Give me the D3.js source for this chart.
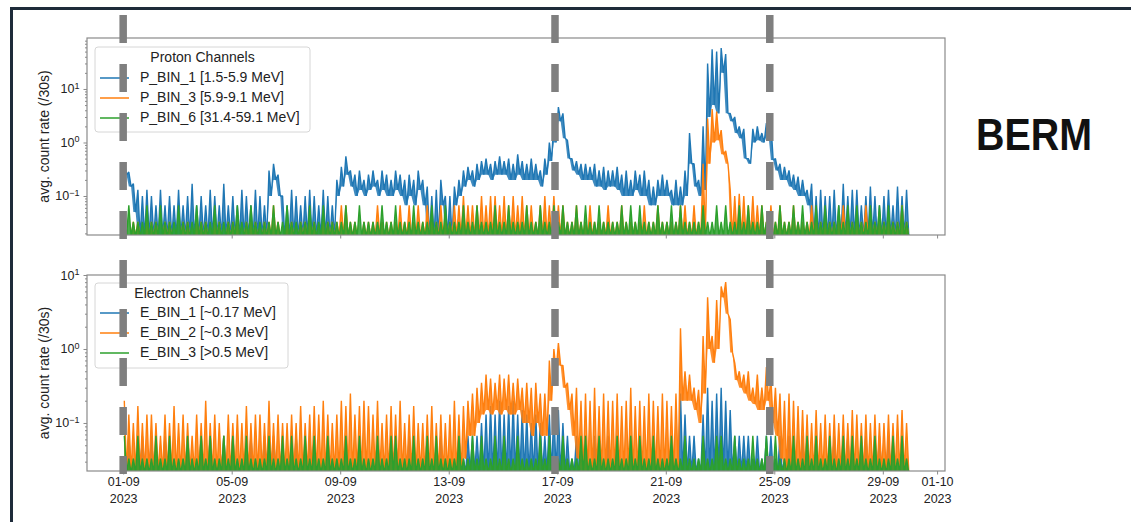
<!doctype html>
<html lang="en">
<head>
<meta charset="utf-8">
<title>BERM</title>
<style>
    body { margin: 0; background: #fff; }
    svg text { font-family: "Liberation Sans", Arial, sans-serif; fill: #222; }
</style>
</head>
<body>
<svg width="1131" height="522"></svg>
<script src="https://d3js.org/d3.v7.min.js"></script>
<script>
    // 4-hour bins from 2023-09-01 00:00; each bin keeps the highest and lowest 30 s rate seen in it
    var binStart = new Date(2023, 8, 1);
    var binHours = 4;

    var protonLabels = ["P_BIN_1 [1.5-5.9 MeV]", "P_BIN_3 [5.9-9.1 MeV]", "P_BIN_6 [31.4-59.1 MeV]"];
    var electronLabels = ["E_BIN_1 [~0.17 MeV]", "E_BIN_2 [~0.3 MeV]", "E_BIN_3 [>0.5 MeV]"];
    var colors = ["#1f77b4", "#ff7f0e", "#2ca02c"];

    // one row = one day (6 bins)
    var p1Max = [
        .42,.28,.17,.13,.1,.13, .1,.067,.13,.067,.1,.067, .13,.067,.1,.17,.067,.1,
        .067,.13,.1,.067,.17,.067, .1,.067,.13,.1,.067,.13, .1,.067,.3,.4,.25,.1,
        .067,.13,.1,.067,.1,.13, .1,.067,.13,.1,.067,.2, .35,.55,.3,.25,.3,.2,
        .25,.3,.2,.3,.25,.2, .3,.25,.2,.25,.2,.3, .2,.15,.1,.13,.2,.1,
        .1,.15,.2,.3,.35,.3, .4,.45,.5,.4,.45,.55, .45,.5,.4,.6,.45,.4,
        .5,.4,.3,.5,1.0,2.6, 4.6,3.5,1.1,.5,.45,.4, .4,.35,.4,.3,.35,.3,
        .3,.35,.25,.3,.2,.3, .25,.3,.2,.15,.2,.25, .2,.13,.2,.15,.3,1.5,
        .4,.2,2,30,55,50, 58,45,3.5,3,2,1.8, .5,1.8,2,1.5,2.3,2.3,
        .5,.4,.35,.3,.25,.23, .2,.13,.17,.1,.13,.1, .1,.13,.067,.17,.1,.13,
        .13,.067,.1,.15,.1,.067, .1,.13,.067,.15,.1,.13
    ];
    var p1Min = [
        .25,.15,.05,0,0,0, 0,0,0,0,0,0, 0,0,0,0,0,0,
        0,0,0,0,0,0, 0,0,0,0,0,0, 0,0,.1,.2,.1,0,
        0,0,0,0,0,0, 0,0,0,0,0,.1, .15,.25,.15,.1,.13,.1,
        .13,.15,.1,.13,.1,.1, .13,.1,.067,.1,.067,.13, .067,0,0,0,.067,0,
        0,.067,.1,.15,.2,.15, .2,.25,.25,.2,.25,.25, .25,.2,.2,.25,.2,.2,
        .2,.2,.15,.25,.45,1.0, 2.5,1.2,.5,.3,.25,.2, .2,.2,.15,.15,.13,.15,
        .15,.13,.1,.1,.1,.13, .1,.1,.067,.067,.1,.1, .1,.067,.067,.067,.1,.4,
        .15,.1,.13,3,5,3.5, 20,3.5,2.5,1.5,1.2,.5, .4,1,1.1,1,1.3,.47,
        .3,.2,.2,.15,.13,.1, .1,.067,0,0,0,0, 0,0,0,0,0,0,
        0,0,0,0,0,0, 0,0,0,0,0,0
    ];
    var p3Max = [
        .033,0,.033,.033,0,.033, .033,.033,0,.033,.033,0, 0,.033,.033,0,.033,.033,
        .033,0,.033,.033,0,.033, .033,.033,0,.033,.033,.033, 0,.033,.033,.067,.033,0,
        .033,.033,0,.033,.033,.033, .033,0,.033,.033,.033,.033, .067,.067,.033,.033,0,.033,
        .033,.033,.067,.033,.033,.033, .033,.067,.033,.067,.033,.067, .033,.067,.033,.033,.067,.033,
        .033,.067,.067,.1,.067,.067, .067,.1,.067,.1,.1,.067, .1,.067,.1,.067,.1,.067,
        .067,.033,.067,.1,.067,.1, .067,.067,.033,.033,.067,.033, .033,.067,.033,.033,.033,.067,
        .033,.033,.067,.033,.033,.033, .033,.067,.033,.033,.067,.033, .033,.033,.033,.067,.067,.033,
        .067,.033,.4,2.8,4.2,3.8, 1.7,.7,.13,.1,.11,.1, .067,.1,.067,.067,.033,.067,
        .033,.067,.033,.033,.067,.033, .033,.033,.067,.033,.033,.033, .033,.033,.033,.067,.033,.033,
        .033,.033,.067,.033,.033,.033, .033,.033,.033,.033,.067,.033
    ];
    var p3Min = [
        0,0,0,0,0,0, 0,0,0,0,0,0, 0,0,0,0,0,0, 0,0,0,0,0,0, 0,0,0,0,0,0, 0,0,0,0,0,0,
        0,0,0,0,0,0, 0,0,0,0,0,0, 0,0,0,0,0,0, 0,0,0,0,0,0, 0,0,0,0,0,0, 0,0,0,0,0,0,
        0,0,0,0,0,0, 0,0,0,0,0,0, 0,0,0,0,0,0, 0,0,0,0,0,0, 0,0,0,0,0,0, 0,0,0,0,0,0,
        0,0,0,0,0,0, 0,0,0,0,0,0, 0,0,0,0,0,0, 0,0,0,.4,1,1.1, .6,.4,0,0,0,0, 0,0,0,0,0,0,
        0,0,0,0,0,0, 0,0,0,0,0,0, 0,0,0,0,0,0, 0,0,0,0,0,0, 0,0,0,0,0,0
    ];
    var p6Max = [
        .033,.067,.033,.033,.033,.067, .033,.033,.067,.033,.033,.033, .067,.033,.033,.033,.067,.033,
        .033,.033,.067,.033,.033,.033, .033,.067,.033,.033,.067,.033, .033,.033,.033,.067,.033,.033,
        .067,.033,.033,.033,.033,.067, .033,.033,.067,.033,.033,.033, .033,.067,.033,.033,.067,.033,
        .033,.033,.033,.067,.033,.033, .067,.033,.033,.033,.067,.033, .033,.033,.067,.033,.033,.067,
        .033,.033,.033,.067,.033,.033, .067,.033,.033,.033,.067,.033, .033,.067,.033,.033,.033,.067,
        .033,.033,.067,.033,.033,.067, .033,.067,.033,.033,.067,.033, .067,.033,.033,.067,.033,.033,
        .033,.033,.067,.033,.067,.033, .067,.033,.033,.033,.067,.033, .033,.067,.033,.067,.033,.033,
        .033,.033,.067,.033,.033,.067, .033,.067,.033,.033,.067,.033, .067,.033,.033,.067,.033,.033,
        .033,.067,.033,.033,.067,.033, .067,.033,.033,.067,.033,.067, .033,.033,.067,.033,.067,.033,
        .067,.033,.033,.067,.033,.067, .033,.067,.033,.033,.067,.033
    ];

    var e1Max = [
        .033,.067,.033,.033,.067,.033, .067,.033,.033,.067,.033,.033, .033,.033,.067,.033,.033,.067,
        .033,.067,.033,.033,.067,.033, .067,.033,.033,.033,.067,.033, .033,.067,.033,.067,.033,.033,
        .033,.033,.067,.033,.033,.067, .067,.033,.033,.067,.033,.033, .033,.067,.033,.033,.067,.033,
        .033,.033,.067,.033,.033,.067, .067,.033,.033,.067,.033,.033, .033,.067,.033,.033,.067,.033,
        .033,.033,.067,.033,.067,.067, .067,.1,.13,.17,.13,.2, .13,.17,.2,.13,.15,.13,
        .1,.13,.1,.067,.13,.15, .15,.1,.067,.033,.067,.033, .067,.033,.067,.033,.033,.067,
        .033,.067,.033,.033,.067,.033, .067,.033,.033,.067,.033,.033, .033,.067,.033,.25,.13,.067,
        .067,.033,.13,.3,.2,.25, .3,.2,.15,.067,.067,.067, .067,.033,.067,.033,.067,.067,
        .033,.067,.033,.067,.033,.033, .067,.033,.033,.067,.033,.033, .033,.067,.033,.033,.067,.033,
        .033,.033,.067,.033,.033,.067, .033,.067,.033,.033,.067,.033
    ];
    var e2Max = [
        .2,.13,.1,.17,.1,.13, .13,.1,.067,.13,.1,.17, .1,.13,.1,.067,.13,.1,
        .2,.1,.13,.1,.067,.13, .1,.13,.1,.17,.1,.13, .13,.1,.2,.1,.13,.1,
        .1,.13,.1,.17,.1,.13, .17,.13,.2,.13,.1,.13, .2,.17,.25,.13,.17,.2,
        .17,.13,.2,.1,.13,.17, .13,.2,.1,.13,.17,.1, .1,.13,.17,.1,.13,.1,
        .13,.2,.13,.17,.2,.25, .3,.35,.45,.4,.35,.45, .4,.45,.35,.4,.3,.35,
        .3,.35,.25,.25,.7,1.0, 1.2,.6,.35,.25,.3,.2, .25,.2,.3,.17,.25,.2,
        .2,.25,.17,.2,.3,.17, .2,.17,.25,.2,.17,.25, .2,.17,.25,1.9,.5,.45,
        .3,.28,1.5,5,1.5,4.6, 7,8,2.5,.65,.5,.45, .5,.3,.45,.3,.57,.4,
        .3,.25,.2,.25,.2,.17, .15,.13,.1,.15,.1,.13, .1,.13,.1,.13,.1,.15,
        .13,.1,.13,.1,.13,.1, .1,.13,.1,.13,.15,.1
    ];
    var e2Min = [
        0,0,0,0,0,0, 0,0,0,0,0,0, 0,0,0,0,0,0, 0,0,0,0,0,0, 0,0,0,0,0,0, 0,0,0,0,0,0,
        0,0,0,0,0,0, 0,0,0,0,0,0, 0,0,0,0,0,0, 0,0,0,0,0,0, 0,0,0,0,0,0, 0,0,0,0,0,0,
        0,0,0,.033,.067,.067, .1,.13,.15,.13,.15,.13, .15,.13,.13,.15,.1,.1,
        .067,.1,.067,.067,.2,.5, .6,.3,.15,.067,.033,0, 0,0,0,0,0,0,
        0,0,0,0,0,0, 0,0,0,0,0,0, 0,0,0,.2,.2,.2,
        .15,.1,.25,1,.65,1, 5,3,.9,.38,.3,.25, .2,.18,.15,.15,.2,.1,
        .067,.033,0,0,0,0, 0,0,0,0,0,0, 0,0,0,0,0,0,
        0,0,0,0,0,0, 0,0,0,0,0,0
    ];
    var e3Max = [
        .067,.033,.033,.067,.033,.033, .033,.067,.033,.033,.067,.033, .033,.033,.067,.033,.033,.067,
        .033,.067,.033,.033,.067,.033, .067,.033,.033,.067,.033,.033, .033,.033,.067,.033,.033,.067,
        .033,.067,.033,.033,.067,.033, .067,.033,.033,.067,.033,.033, .033,.067,.033,.033,.067,.033,
        .033,.033,.067,.033,.033,.067, .067,.033,.033,.033,.067,.033, .033,.067,.033,.067,.033,.033,
        .033,.033,.067,.033,.033,.067, .033,.067,.033,.033,.067,.033, .067,.033,.033,.067,.033,.033,
        .033,.033,.067,.033,.067,.033, .033,.067,.033,.033,.033,.067, .067,.033,.033,.067,.033,.033,
        .033,.067,.033,.033,.067,.033, .067,.033,.033,.067,.033,.033, .033,.067,.033,.033,.067,.033,
        .033,.033,.067,.033,.033,.067, .067,.033,.033,.067,.033,.033, .033,.067,.033,.033,.067,.033,
        .067,.033,.033,.033,.067,.033, .033,.067,.033,.067,.033,.033, .067,.033,.033,.067,.033,.067,
        .033,.067,.033,.033,.067,.033, .033,.033,.067,.033,.067,.033
    ];

    // marked event times (dashed lines)
    var eventTimes = [new Date(2023, 8, 1, 0), new Date(2023, 8, 16, 22), new Date(2023, 8, 24, 20)];
    var xTicks = [new Date(2023, 8, 1), new Date(2023, 8, 5), new Date(2023, 8, 9), new Date(2023, 8, 13),
        new Date(2023, 8, 17), new Date(2023, 8, 21), new Date(2023, 8, 25), new Date(2023, 8, 29),
        new Date(2023, 9, 1)];

    var svg = d3.select("svg"),
        width = +svg.attr("width"),
        height = +svg.attr("height");

    svg.append("rect").attr("width", width).attr("height", height).attr("fill", "#fff");

    // slide frame (only top and left edges are in view)
    svg.append("path")
        .attr("d", "M11.5," + height + "V8.5H" + width)
        .attr("fill", "none")
        .attr("stroke", "#1e2b3a")
        .attr("stroke-width", 3);

    var left = 87, right = 945;
    var x = d3.scaleTime()
        .domain([new Date(2023, 7, 30, 16), new Date(2023, 9, 1, 7)])
        .range([left, right]);

    var panels = [
        {id: "proton", top: 38, bottom: 235, yDomain: [0.01866, 89.7], title: "Proton Channels",
            labels: protonLabels, legend: {x: 95, y: 47, w: 215, h: 85, titleY: 58, rowY: [78, 98, 118]},
            series: [[p1Max, p1Min], [p3Max, p3Min], [p6Max, null]], tickLabels: false},
        {id: "electron", top: 275, bottom: 471, yDomain: [0.02244, 10], title: "Electron Channels",
            labels: electronLabels, legend: {x: 95, y: 283, w: 193, h: 85, titleY: 294, rowY: [313, 333, 353]},
            series: [[e1Max, null], [e2Max, e2Min], [e3Max, null]], tickLabels: true}
    ];

    // each bin becomes a rise to its max and a fall to its min; [time, value, bin min]
    function zigzag(maxs, mins) {
        var pts = [];
        maxs.forEach(function (v, i) {
            var t = d3.timeHour.offset(binStart, i * binHours);
            var lo = mins ? mins[i] : 0;
            pts.push([d3.timeHour.offset(t, 1), v, lo]);
            pts.push([d3.timeHour.offset(t, 3), lo, lo]);
        });
        return pts;
    }

    var fmtDay = d3.timeFormat("%d-%m"),
        fmtYear = d3.timeFormat("%Y");

    panels.forEach(function (p) {
        var y = d3.scaleLog().domain(p.yDomain).range([p.bottom, p.top]);
        // zero counts fall off the log axis: send them just past the bottom edge
        function yv(v) { return v > 0 ? y(v) : p.bottom + 2; }

        var g = svg.append("g").attr("class", p.id);

        g.append("clipPath").attr("id", "clip-" + p.id)
            .append("rect")
            .attr("x", left).attr("y", p.top)
            .attr("width", right - left).attr("height", p.bottom - p.top);

        var line = d3.line()
            .x(function (d) { return x(d[0]); })
            .y(function (d) { return yv(d[1]); });
        var area = d3.area()
            .x(function (d) { return x(d[0]); })
            .y0(function (d) { return yv(d[2]); })
            .y1(function (d) { return yv(d[1]); });

        var s = g.append("g")
            .attr("clip-path", "url(#clip-" + p.id + ")")
            .selectAll("g")
            .data(p.series)
            .enter().append("g");
        // dense 30 s samples read as a filled band between the bin extremes
        s.append("path")
            .attr("d", function (d) { return area(zigzag(d[0], d[1])); })
            .attr("fill", function (d, i) { return colors[i]; })
            .attr("fill-opacity", 0.85);
        s.append("path")
            .attr("d", function (d) { return line(zigzag(d[0], d[1])); })
            .attr("fill", "none")
            .attr("stroke", function (d, i) { return colors[i]; })
            .attr("stroke-width", 1.4)
            .attr("stroke-linejoin", "bevel");

        // spines
        g.append("rect")
            .attr("x", left).attr("y", p.top)
            .attr("width", right - left).attr("height", p.bottom - p.top)
            .attr("fill", "none").attr("stroke", "#8a8a8a").attr("stroke-width", 1.2);

        // y axis: major and minor log ticks
        var majors = [0.1, 1, 10].filter(function (v) { return v >= p.yDomain[0] && v <= p.yDomain[1]; });
        var minors = [];
        [0.01, 0.1, 1, 10].forEach(function (dec) {
            for (var m = 2; m < 10; m++) {
                var v = m * dec;
                if (v > p.yDomain[0] && v < p.yDomain[1]) minors.push(v);
            }
        });
        var yMinor = g.append("g").attr("transform", "translate(" + left + ",0)")
            .call(d3.axisLeft(y).tickValues(minors).tickSize(2).tickFormat(""));
        var yMajor = g.append("g").attr("transform", "translate(" + left + ",0)")
            .call(d3.axisLeft(y).tickValues(majors).tickSize(3.5).tickPadding(4));
        [yMinor, yMajor].forEach(function (a) {
            a.select(".domain").remove();
            a.selectAll("line").attr("stroke", "#8a8a8a");
        });
        yMajor.attr("font-family", null).attr("font-size", null);
        yMajor.selectAll(".tick text").each(function (d) {
            var t = d3.select(this).text("").attr("font-size", "12.5px");
            t.append("tspan").text("10");
            t.append("tspan").attr("dy", "-0.55em").attr("font-size", "9px")
                .text(String(Math.round(Math.log10(d))).replace("-", "\u2212"));
        });

        g.append("text")
            .attr("transform", "translate(45," + ((p.top + p.bottom) / 2) + ") rotate(-90)")
            .attr("text-anchor", "middle")
            .attr("dominant-baseline", "middle")
            .attr("font-size", "14px")
            .text("avg. count rate (/30s)");

        // x axis
        var xa = g.append("g").attr("transform", "translate(0," + p.bottom + ")")
            .call(d3.axisBottom(x).tickValues(xTicks).tickSize(3.5).tickPadding(3).tickFormat(fmtDay));
        xa.select(".domain").remove();
        xa.selectAll("line").attr("stroke", "#8a8a8a");
        xa.attr("font-family", null).attr("font-size", null);
        xa.selectAll(".tick text").each(function (d) {
            var t = d3.select(this).text("").attr("font-size", "12.5px");
            if (!p.tickLabels) return;
            t.append("tspan").attr("x", 0).attr("dy", "0.71em").text(fmtDay(d));
            t.append("tspan").attr("x", 0).attr("dy", "1.3em").text(fmtYear(d));
        });

        // legend
        var L = p.legend;
        var lg = g.append("g").attr("class", "legend");
        lg.append("rect")
            .attr("x", L.x).attr("y", L.y).attr("width", L.w).attr("height", L.h)
            .attr("rx", 3)
            .attr("fill", "#fff").attr("fill-opacity", 0.8)
            .attr("stroke", "#d6d6d6").attr("stroke-width", 1);
        lg.append("text")
            .attr("x", L.x + L.w / 2).attr("y", L.titleY)
            .attr("text-anchor", "middle").attr("dominant-baseline", "middle")
            .attr("font-size", "14px")
            .text(p.title);
        var row = lg.selectAll(".row")
            .data(p.labels)
            .enter().append("g")
            .attr("class", "row")
            .attr("transform", function (d, i) { return "translate(0," + L.rowY[i] + ")"; });
        row.append("line")
            .attr("x1", 100).attr("x2", 129)
            .attr("stroke", function (d, i) { return colors[i]; })
            .attr("stroke-width", 1.5);
        row.append("text")
            .attr("x", 140)
            .attr("dominant-baseline", "middle")
            .attr("font-size", "14px")
            .text(function (d) { return d; });
    });

    // event markers across both panels
    svg.append("g")
        .selectAll("line")
        .data(eventTimes)
        .enter().append("line")
        .attr("x1", function (d) { return x(d); })
        .attr("x2", function (d) { return x(d); })
        .attr("y1", 15)
        .attr("y2", 474)
        .attr("stroke", "#7f7f7f")
        .attr("stroke-width", 7.5)
        .attr("stroke-dasharray", "28,21");

    svg.append("text")
        .attr("x", 1034)
        .attr("y", 150)
        .attr("text-anchor", "middle")
        .attr("font-size", "44px")
        .attr("font-weight", "bold")
        .attr("textLength", 116)
        .attr("lengthAdjust", "spacingAndGlyphs")
        .style("fill", "#111")
        .text("BERM");
</script>
</body>
</html>
